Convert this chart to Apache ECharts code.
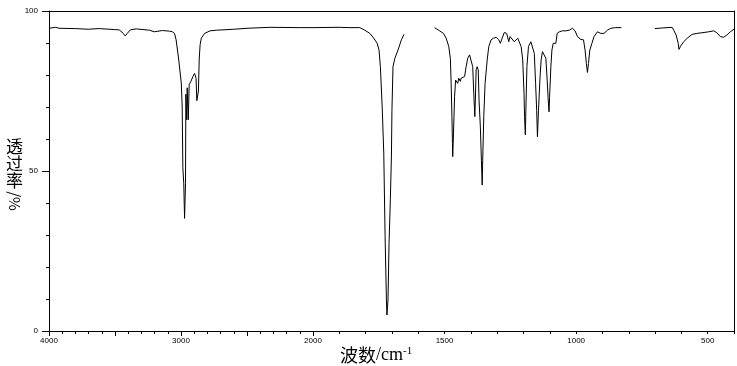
<!DOCTYPE html>
<html>
<head>
<meta charset="utf-8">
<script src="https://cdn.jsdelivr.net/npm/echarts@6/dist/echarts.min.js"></script>
<style>
body { margin: 0; background: #fff; }
#chart { width: 737px; height: 366px; }
</style>
</head>
<body>
<div id="chart"></div>
<script>
// 4000-2000 cm-1 (compressed scale)
let waveHigh = [4000, 3949, 3924, 3800, 3703, 3620, 3506, 3468, 3437, 3422, 3407, 3384, 3338, 3240, 3202, 3141, 3087, 3065,
    3049, 3037, 3017, 2998, 2991, 2986, 2979, 2973, 2966, 2963, 2957, 2953, 2945, 2938, 2925, 2910, 2897, 2886, 2880, 2874,
    2868, 2862, 2855, 2846, 2821, 2780, 2732, 2600, 2500, 2327, 2100, 2000];
let transHigh = [94.6, 94.9, 94.6, 94.5, 94.3, 94.5, 94.2, 94.1, 93.0, 92.2, 93.0, 94.1, 94.4, 94.0, 93.5, 93.9, 93.7, 93.5,
    93.0, 91.0, 84.7, 77.5, 70.0, 51.0, 46.0, 35.2, 46.0, 74.0, 66.0, 76.0, 66.0, 77.0, 78.0, 79.5, 80.5, 79.0, 72.0, 72.5,
    75.0, 85.0, 89.5, 91.5, 93.0, 93.8, 94.0, 94.3, 94.6, 94.9, 94.8, 94.8];

// 2000-400 cm-1 (expanded scale), null = gap in the trace
let waveLow = [2000, 1900, 1860, 1822, 1803, 1784, 1769, 1756, 1749, 1744, 1737, 1731, 1726, 1721, 1719, 1715, 1711, 1706,
    1702, 1700, 1696, 1689, 1677, 1664, 1654, 1600,
    1538, 1519, 1504, 1494, 1484, 1478, 1475, 1472, 1470, 1469, 1466, 1462, 1458, 1453, 1450, 1446, 1440, 1437, 1431, 1424,
    1418, 1412, 1405, 1399, 1393, 1389, 1385, 1383, 1380, 1376, 1372, 1369, 1364, 1360, 1357, 1355, 1351, 1346, 1338, 1332,
    1323, 1314, 1304, 1294, 1288, 1281, 1273, 1264, 1256, 1251, 1244, 1235, 1228, 1222, 1216, 1209, 1203, 1198, 1196, 1193,
    1191, 1187, 1181, 1172, 1166, 1159, 1154, 1150, 1147, 1143, 1137, 1133, 1128, 1121, 1115, 1110, 1106, 1103, 1101, 1096,
    1092, 1087, 1082, 1077, 1072, 1064, 1052, 1039, 1026, 1014, 1004, 995, 982, 972, 966, 961, 957, 953, 948, 940, 932, 919,
    913, 906, 894, 881, 868, 850, 828, 760,
    701, 673, 635, 629, 620, 612, 609, 603, 591, 578, 559, 541, 522, 496, 477, 465, 452, 439, 427, 414, 400];
let transLow = [94.8, 94.9, 94.8, 94.8, 94.0, 93.0, 91.5, 89.9, 87.8, 82.6, 70.0, 55.5, 29.5, 9.7, 5.0, 9.7, 27.4, 41.0,
    54.4, 69.0, 82.6, 85.2, 87.8, 91.0, 92.7, null,
    94.8, 93.8, 93.0, 91.5, 88.9, 85.2, 77.4, 67.0, 58.6, 54.5, 61.8, 73.2, 78.4, 77.9, 77.4, 79.0, 78.0, 79.0, 78.4, 79.5,
    82.6, 85.2, 86.3, 86.3, 82.6, 74.3, 67.0, 72.2, 81.6, 82.6, 81.6, 72.2, 63.8, 53.4, 45.6, 53.4, 67.0, 77.4, 84.7, 88.9,
    91.0, 91.5, 91.8, 91.0, 89.9, 91.5, 93.3, 93.0, 90.4, 92.0, 92.5, 90.4, 91.0, 91.5, 91.0, 88.9, 84.7, 74.3, 67.0, 61.3,
    69.0, 82.6, 88.9, 90.4, 89.9, 86.8, 77.4, 69.0, 60.7, 69.0, 79.5, 84.7, 87.3, 86.8, 85.2, 78.4, 72.2, 68.5, 73.0, 82.6,
    87.8, 89.9, 90.4, 89.9, 93.0, 93.5, 93.8, 93.8, 94.0, 94.6, 93.8, 92.0, 91.1, 91.0, 87.8, 83.6, 80.8, 83.6, 87.8, 89.9, 92.0, 93.5,
    94.0, 93.0, 93.0, 94.0, 94.6, 94.8, 94.8, null,
    94.5, 94.7, 94.9, 94.0, 92.5, 89.9, 88.0, 89.0, 90.4, 91.5, 92.7, 93.0, 93.2, 93.5, 93.8, 93.2, 92.0, 91.8, 92.5, 93.5, 94.3];

// y axis name, written top to bottom; the last piece is turned on its side
let yNameChars = ['透', '过', '率'];

function zip(xs, ys) {
    let out = [];
    for (let i = 0; i < xs.length; i++) {
        out.push([xs[i], ys[i]]);
    }
    return out;
}

let black = { color: '#000', width: 1 };
let labelFont = { fontSize: 8, color: '#000', fontFamily: 'Liberation Sans' };

let graphics = [];
yNameChars.forEach(function (ch, i) {
    graphics.push({
        type: 'text', x: 14.5, y: 147 + i * 17,
        style: { text: ch, font: '17px "Noto Sans CJK SC"', fill: '#000', align: 'center', verticalAlign: 'middle' }
    });
});
graphics.push({
    type: 'text', x: 14.5, y: 201, rotation: -Math.PI / 2,
    style: { text: '/%', font: '15px "Noto Sans CJK SC"', fill: '#000', align: 'center', verticalAlign: 'middle' }
});
graphics.push({
    type: 'text', x: 340, y: 355,
    style: {
        text: '{a|波数}{b|/cm}{c|-1}',
        verticalAlign: 'middle',
        fill: '#000',
        rich: {
            a: { font: '18px "Noto Sans CJK SC"', fill: '#000' },
            b: { font: '18px "Liberation Serif"', fill: '#000' },
            c: { font: '11px "Liberation Serif"', fill: '#000', verticalAlign: 'top', padding: [0, 0, 8, 0] }
        }
    }
});

let option = {
    animation: false,
    backgroundColor: '#fff',
    grid: [
        { left: 49, top: 11, width: 264, height: 320, outerBoundsMode: 'none' },
        { left: 313, top: 11, width: 421, height: 320, outerBoundsMode: 'none' }
    ],
    xAxis: [
        {
            gridIndex: 0, type: 'value', min: 2000, max: 4000, interval: 500, inverse: true, position: 'bottom',
            axisLine: { show: true, onZero: false, lineStyle: black },
            axisTick: { show: true, length: 5, lineStyle: black },
            minorTick: { show: true, splitNumber: 5, length: 3, lineStyle: black },
            splitLine: { show: false },
            axisLabel: Object.assign({
                margin: 6, showMinLabel: true, showMaxLabel: true,
                formatter: function (v) { return v % 1000 === 0 ? String(v) : ''; }
            }, labelFont)
        },
        {
            gridIndex: 1, type: 'value', min: 400, max: 2000, interval: 100, inverse: true, position: 'bottom',
            axisLine: { show: true, onZero: false, lineStyle: black },
            axisTick: { show: true, length: 3, lineStyle: black },
            splitLine: { show: false },
            axisLabel: Object.assign({
                margin: 6, showMinLabel: true, showMaxLabel: true,
                formatter: function (v) { return (v % 500 === 0 && v < 2000) ? String(v) : ''; }
            }, labelFont)
        },
        {
            gridIndex: 0, type: 'value', min: 2000, max: 4000, position: 'top',
            axisLine: { show: true, onZero: false, lineStyle: black },
            axisTick: { show: false }, axisLabel: { show: false }, splitLine: { show: false }
        },
        {
            gridIndex: 1, type: 'value', min: 400, max: 2000, position: 'top',
            axisLine: { show: true, onZero: false, lineStyle: black },
            axisTick: { show: false }, axisLabel: { show: false }, splitLine: { show: false }
        }
    ],
    yAxis: [
        {
            gridIndex: 0, type: 'value', min: 0, max: 100, interval: 50, position: 'left',
            axisLine: { show: true, onZero: false, lineStyle: black },
            axisTick: { show: true, length: 7, lineStyle: black },
            minorTick: { show: true, splitNumber: 5, length: 3, lineStyle: black },
            splitLine: { show: false },
            axisLabel: Object.assign({ margin: 11 }, labelFont)
        },
        {
            gridIndex: 1, type: 'value', min: 0, max: 100, position: 'right',
            axisLine: { show: true, onZero: false, lineStyle: black },
            axisTick: { show: false }, axisLabel: { show: false }, splitLine: { show: false }
        }
    ],
    series: [
        {
            type: 'line', xAxisIndex: 0, yAxisIndex: 0, data: zip(waveHigh, transHigh),
            showSymbol: false, symbol: 'none', lineStyle: black, connectNulls: false
        },
        {
            type: 'line', xAxisIndex: 1, yAxisIndex: 1, data: zip(waveLow, transLow),
            showSymbol: false, symbol: 'none', lineStyle: black, connectNulls: false
        }
    ],
    graphic: graphics
};

let chart = echarts.init(document.getElementById('chart'));
chart.setOption(option);
</script>
</body>
</html>
